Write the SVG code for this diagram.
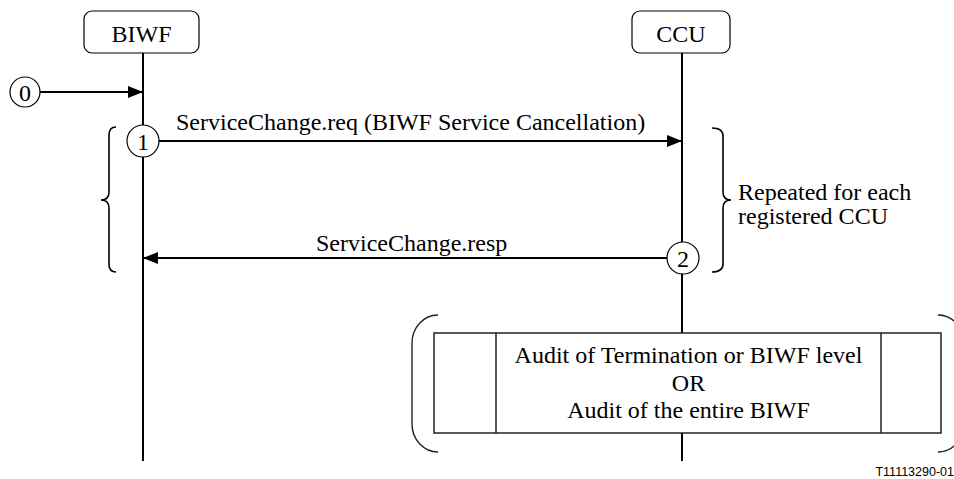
<svg xmlns="http://www.w3.org/2000/svg" width="954" height="479" viewBox="0 0 954 479">
<style>
.t{font-family:"Liberation Serif","Times New Roman",serif;font-size:24px;fill:#000}
.m{text-anchor:middle}
.box{fill:#fff;stroke:#000;stroke-width:1.2}
.life{stroke:#000;stroke-width:2;fill:none}
.msg{stroke:#000;stroke-width:2;fill:none}
.circ{fill:#fff;stroke:#000;stroke-width:1.2}
.br{fill:none;stroke:#000;stroke-width:1.6}
.par{fill:none;stroke:#222;stroke-width:1.4}
.ab{fill:#fff;stroke:#222;stroke-width:1.5}
</style>
<defs>
<marker id="ah" markerWidth="15" markerHeight="12" refX="15" refY="6" orient="auto" markerUnits="userSpaceOnUse">
<path d="M0,0 L15,6 L0,12 Z" fill="#000"/>
</marker>
</defs>
<g id="lifelines">
<line class="life" x1="143" y1="53" x2="143" y2="461"/>
<line class="life" x1="682" y1="53" x2="682" y2="461"/>
</g>
<g id="BIWF">
<rect class="box" x="84" y="11" width="115" height="42" rx="8"/>
<text class="t m" x="141.5" y="42">BIWF</text>
</g>
<g id="CCU">
<rect class="box" x="632" y="11" width="98" height="42" rx="8"/>
<text class="t m" x="681" y="42">CCU</text>
</g>
<g id="connectors">
<line class="msg" x1="40" y1="92" x2="143" y2="92" marker-end="url(#ah)"/>
<line class="msg" x1="159" y1="141" x2="682" y2="141" marker-end="url(#ah)"/>
<line class="msg" x1="667" y1="258" x2="143" y2="258" marker-end="url(#ah)"/>
</g>
<g id="labels">
<text class="t" x="176" y="130">ServiceChange.req (BIWF Service Cancellation)</text>
<text class="t" x="316" y="251">ServiceChange.resp</text>
</g>
<g id="step0">
<circle class="circ" cx="25" cy="92" r="15"/>
<text class="t m" x="25" y="100.5">0</text>
</g>
<g id="step1">
<circle class="circ" cx="143" cy="141" r="16"/>
<text class="t m" x="143" y="149.5">1</text>
</g>
<g id="step2">
<circle class="circ" cx="683" cy="258" r="16"/>
<text class="t m" x="683" y="266.5">2</text>
</g>
<g id="repeat">
<path class="br" d="M116,127 Q109,127 109,135 L109,192 Q109,200 101,200 Q109,200 109,208 L109,264 Q109,272 116,272"/>
<path class="br" d="M712,128 Q723,128 723,136 L723,192 Q723,200 731,200 Q723,200 723,208 L723,264 Q723,272 712,272"/>
<text class="t" x="738" y="200">Repeated for each</text>
<text class="t" x="738" y="224">registered CCU</text>
</g>
<g id="audit">
<path class="par" d="M438,315 A26,28 0 0 0 412,343 L412,424 A26,28 0 0 0 438,452"/>
<path class="par" d="M938,315 A26,28 0 0 1 964,343 L964,424 A26,28 0 0 1 938,452"/>
<rect class="ab" x="434" y="333" width="507" height="100"/>
<line class="ab" x1="496" y1="333" x2="496" y2="433"/>
<line class="ab" x1="881" y1="333" x2="881" y2="433"/>
<text class="t m" x="688.5" y="363">Audit of Termination or BIWF level</text>
<text class="t m" x="688.5" y="391">OR</text>
<text class="t m" x="688.5" y="418">Audit of the entire BIWF</text>
</g>
<text x="954" y="476" style="font-family:'Liberation Sans',Arial,sans-serif;font-size:12.5px;text-anchor:end;fill:#000">T11113290-01</text>
</svg>
